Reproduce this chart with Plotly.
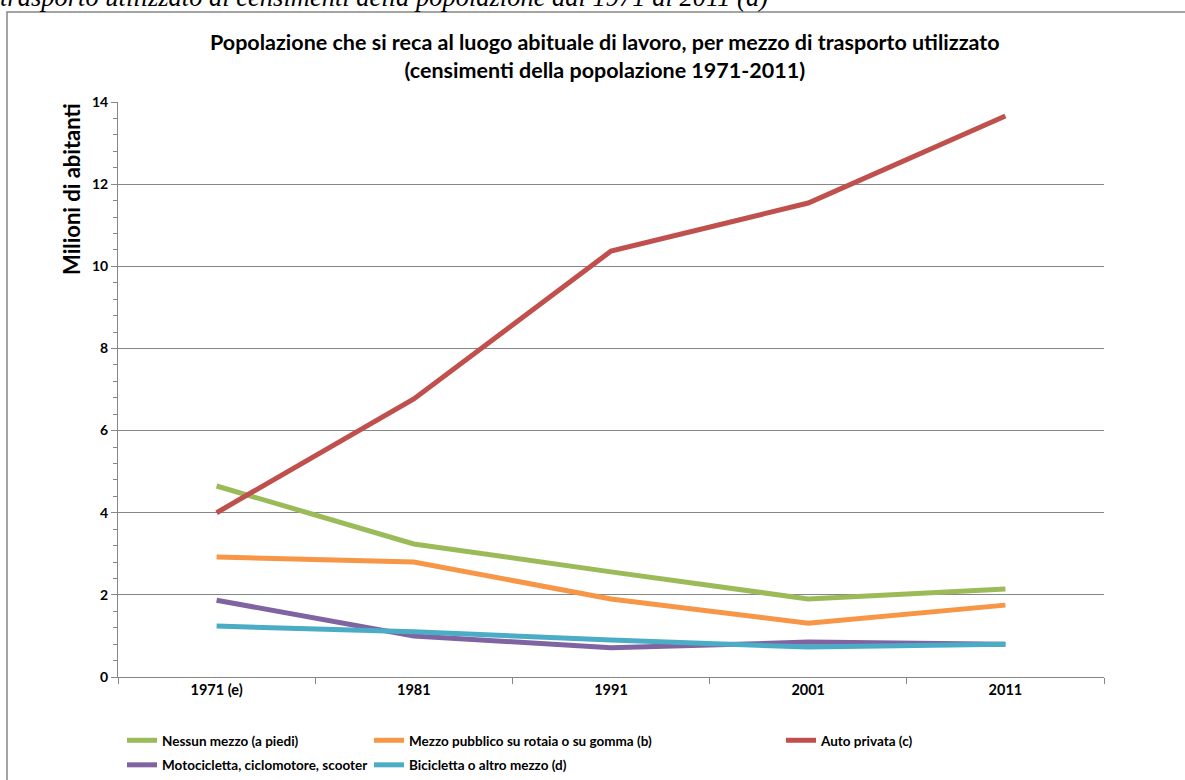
import plotly.graph_objects as go

categories = ["1971 (e)", "1981", "1991", "2001", "2011"]
nessun_mezzo = [4.65, 3.24, 2.56, 1.90, 2.14]
mezzo_pubblico = [2.92, 2.80, 1.90, 1.31, 1.75]
auto_privata = [4.00, 6.77, 10.37, 11.54, 13.66]
motocicletta = [1.87, 1.00, 0.71, 0.85, 0.80]
bicicletta = [1.24, 1.10, 0.90, 0.73, 0.80]

series = [
    ("Nessun mezzo (a piedi)", nessun_mezzo, "#9BBB59", "legend"),
    ("Mezzo pubblico su rotaia o su gomma (b)", mezzo_pubblico, "#F79646", "legend2"),
    ("Auto privata (c)", auto_privata, "#C0504D", "legend3"),
    ("Motocicletta, ciclomotore, scooter", motocicletta, "#8064A2", "legend"),
    ("Bicicletta o altro mezzo (d)", bicicletta, "#4BACC6", "legend2"),
]

FONT = "Lato"
fig = go.Figure()
for i, (name, vals, col, lg) in enumerate(series):
    fig.add_trace(go.Scatter(x=categories, y=vals, name=name, mode="lines",
                             line=dict(color=col, width=5), legend=lg,
                             legendgroup=f"g{i}"))

L, R, T, B = 118, 1104, 102, 677
W, H = 1185, 780
def px(x):
    return (x - L) / (R - L)
def py(y):
    return (B - y) / (B - T)

leg_common = dict(orientation="v",
                  font=dict(family=FONT, size=13.5, color="#000000", weight="bold"),
                  bgcolor="rgba(0,0,0,0)", xanchor="left", yanchor="top",
                  itemwidth=30, tracegroupgap=4)

fig.update_layout(
    width=W, height=H,
    margin=dict(l=L, r=W - R, t=T, b=H - B, autoexpand=False),
    paper_bgcolor="white", plot_bgcolor="white",
    font=dict(family=FONT, color="#000000"),
    showlegend=True,
    legend=dict(x=px(122), y=py(725), **leg_common),
    legend2=dict(x=px(369), y=py(725), **leg_common),
    legend3=dict(x=px(781), y=py(725), **leg_common),
    xaxis=dict(type="category", range=[-0.5, 4.5], showgrid=False,
               showline=True, linecolor="#868686", linewidth=1,
               ticks="outside", tickson="boundaries", ticklen=6, tickcolor="#868686",
               tickfont=dict(family=FONT, size=14.5, color="#000000", weight="bold"),
               fixedrange=True),
    yaxis=dict(range=[0, 14], dtick=2, showgrid=True, gridcolor="#868686", gridwidth=1,
               showline=True, linecolor="#868686", linewidth=1,
               ticks="outside", ticklen=6, tickcolor="#868686",
               tickfont=dict(family=FONT, size=14, color="#000000", weight="bold"),
               minor=dict(dtick=0.4, ticks="outside", ticklen=4, tickcolor="#868686", showgrid=False),
               zeroline=False),
    shapes=[dict(type="rect", xref="paper", yref="paper",
                 x0=px(7), x1=px(1195), y0=py(800), y1=py(12),
                 line=dict(color="#868686", width=1.5), fillcolor="rgba(0,0,0,0)", layer="below")],
    annotations=[
        dict(text="<b>Popolazione che si reca al luogo abituale di lavoro, per mezzo di trasporto utilizzato</b><br><b>(censimenti della popolazione 1971-2011)</b>",
             xref="paper", yref="paper", x=px(605), y=py(56), xanchor="center", yanchor="middle",
             showarrow=False, font=dict(family=FONT, size=21.5, color="#000000")),
        dict(text="<b>Milioni di abitanti</b>", textangle=-90,
             xref="paper", yref="paper", x=px(71), y=py(189), xanchor="center", yanchor="middle",
             showarrow=False, font=dict(family=FONT, size=22, color="#000000")),
        dict(text="<i>trasporto utilizzato ai censimenti della popolazione dal 1971 al 2011 (a)</i>",
             xref="paper", yref="paper", x=px(-2), y=py(14), xanchor="left", yanchor="bottom",
             showarrow=False, font=dict(family="Liberation Serif", size=26.5, color="#000000")),
    ],
)

fig.write_html("out.html", config={"displayModeBar": False},
               post_script="document.body.style.margin='0';document.body.style.overflow='hidden';")
